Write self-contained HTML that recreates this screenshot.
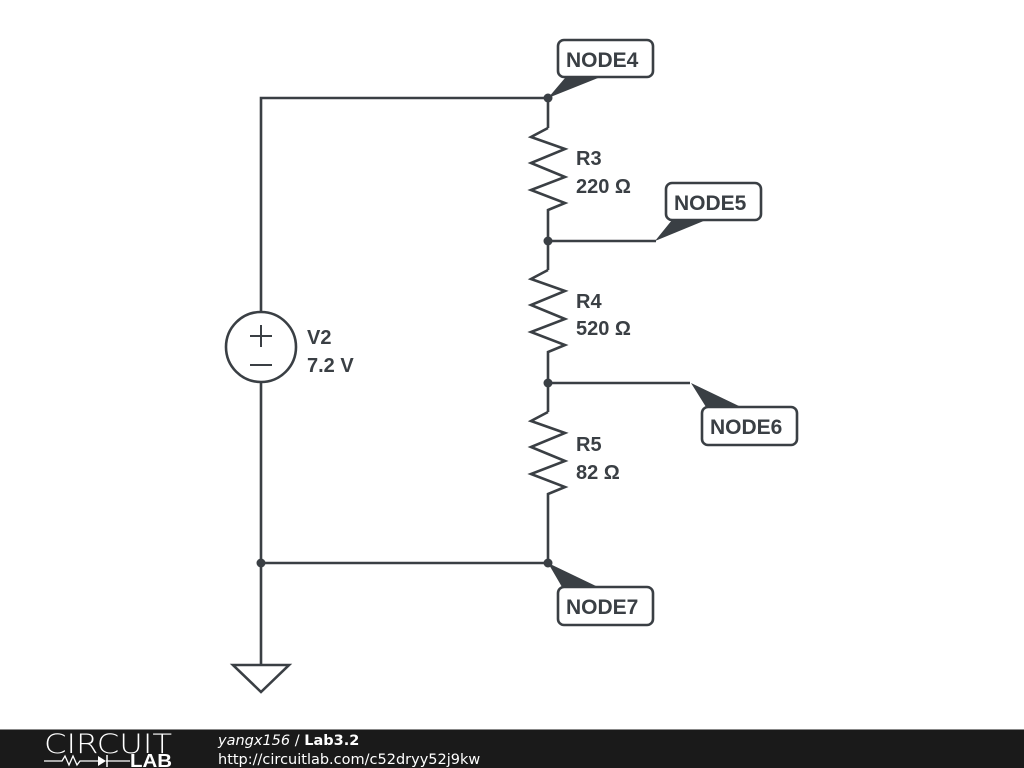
<!DOCTYPE html>
<html><head><style>
body{margin:0;background:#fff;width:1024px;height:768px;overflow:hidden}
svg{display:block}
</style></head><body>
<svg width="1024" height="768" viewBox="0 0 1024 768" xmlns="http://www.w3.org/2000/svg">
<g stroke="#3a3f44" stroke-width="2.6" fill="none" stroke-linejoin="miter">
<polyline points="261,312 261,98 548,98 548,128"/>
<polyline points="548,128 531,137 565,149 531,163 565,177 531,190 565,203 548,210 548,270"/>
<polyline points="548,270 531,279 565,291 531,305 565,319 531,332 565,345 548,352 548,412"/>
<polyline points="548,412 531,421 565,433 531,447 565,461 531,474 565,487 548,494 548,563 261,563"/>
<line x1="548" y1="241" x2="656" y2="241"/>
<line x1="548" y1="383" x2="690" y2="383"/>
<polyline points="261,382 261,665"/>
<polygon points="233,665 289,665 261,692"/>
<circle cx="261" cy="347" r="35"/>
<line x1="250" y1="336" x2="272" y2="336" stroke-width="2"/>
<line x1="261" y1="325" x2="261" y2="347" stroke-width="2"/>
<line x1="250" y1="365" x2="272" y2="365" stroke-width="2"/>
<rect x="558" y="40" width="95" height="37" rx="6" fill="#fff"/>
<rect x="666" y="183" width="95" height="37" rx="6" fill="#fff"/>
<rect x="702" y="407" width="95" height="38" rx="6" fill="#fff"/>
<rect x="558" y="587" width="95" height="38" rx="6" fill="#fff"/>
</g>
<g fill="#3a3f44">
<circle cx="548" cy="98" r="4.5"/>
<circle cx="548" cy="241" r="4.5"/>
<circle cx="548" cy="383" r="4.5"/>
<circle cx="548" cy="563" r="4.5"/>
<circle cx="261" cy="563" r="4.5"/>
<polygon points="548,98 565,78 598,78"/>
<polygon points="655,241 672,220 706,220"/>
<polygon points="691,383 706,407 741,407"/>
<polygon points="548,563 562,587 598,587"/>
</g>
<g font-family="'Liberation Sans',Arial,sans-serif" font-weight="bold" fill="#3a3f44" font-size="20">
<text x="576" y="165">R3</text><text x="576" y="193">220 Ω</text>
<text x="576" y="308">R4</text><text x="576" y="335">520 Ω</text>
<text x="576" y="451">R5</text><text x="576" y="479">82 Ω</text>
<text x="307" y="344">V2</text><text x="307" y="372">7.2 V</text>
<g font-size="21">
<text x="566" y="67">NODE4</text>
<text x="674" y="210">NODE5</text>
<text x="710" y="434">NODE6</text>
<text x="566" y="614">NODE7</text>
</g>
</g>
<rect x="0" y="729" width="1024" height="39" fill="#1a1a1a"/>
<rect x="0" y="729" width="1024" height="1" fill="#888"/>
<text x="44" y="753" font-family="'DejaVu Sans',sans-serif" font-size="27" fill="#fff" font-weight="200" textLength="128" lengthAdjust="spacingAndGlyphs">CIRCUIT</text>
<polyline points="44,761 62,761 65,756 69,765 73,756 77,765 80,761 98,761" stroke="#fff" stroke-width="1.3" fill="none"/>
<polygon points="98,756 98,766 106,761" fill="#fff"/>
<line x1="107" y1="755" x2="107" y2="767" stroke="#fff" stroke-width="1.5"/>
<line x1="106" y1="761" x2="130" y2="761" stroke="#fff" stroke-width="1.3"/>
<text x="130" y="767" font-family="'Liberation Sans',sans-serif" font-weight="bold" font-size="18" fill="#fff" textLength="42" lengthAdjust="spacingAndGlyphs">LAB</text>
<text x="218" y="745" font-family="'DejaVu Sans',sans-serif" font-size="14.5" fill="#fff"><tspan font-style="italic">yangx156</tspan> / <tspan font-weight="bold">Lab3.2</tspan></text>
<text x="218" y="764" font-family="'DejaVu Sans',sans-serif" font-size="14.5" fill="#fff">http://circuitlab.com/c52dryy52j9kw</text>
</svg>
</body></html>
